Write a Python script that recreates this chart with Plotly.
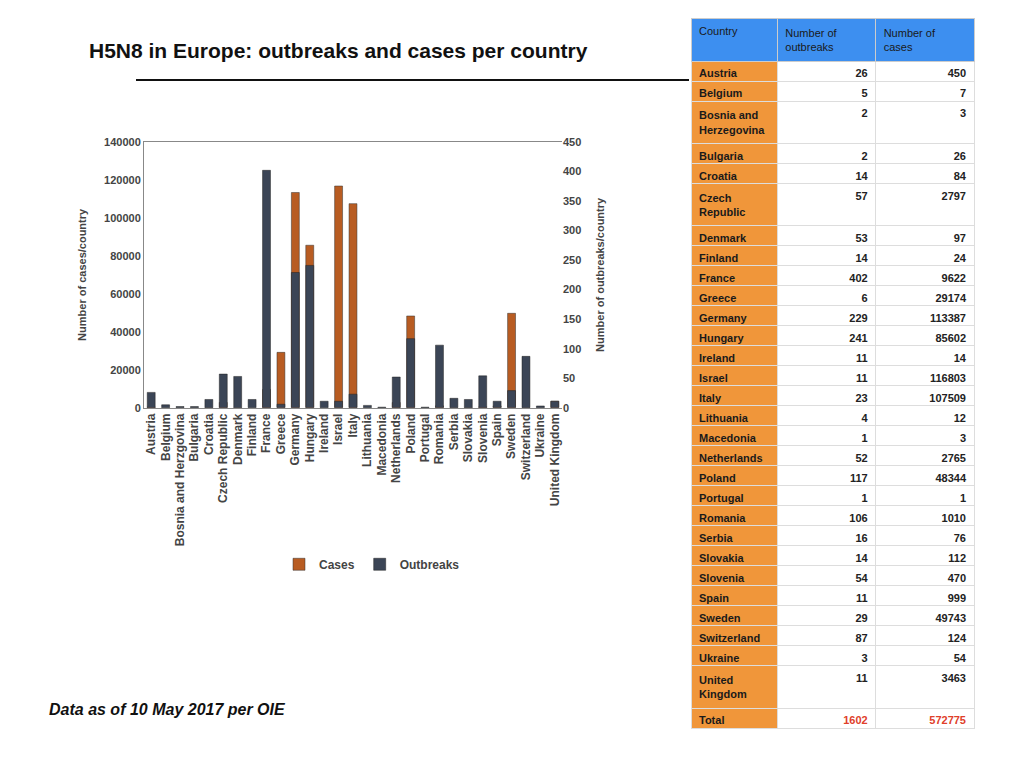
import plotly.graph_objects as go

countries = ["Austria", "Belgium", "Bosnia and Herzgovina", "Bulgaria", "Croatia", "Czech Republic",
             "Denmark", "Finland", "France", "Greece", "Germany", "Hungary", "Ireland", "Israel",
             "Italy", "Lithuania", "Macedonia", "Netherlands", "Poland", "Portugal", "Romania",
             "Serbia", "Slovakia", "Slovenia", "Spain", "Sweden", "Switzerland", "Ukraine",
             "United Kingdom"]
table_names = ["Austria", "Belgium", "Bosnia and<br>Herzegovina", "Bulgaria", "Croatia", "Czech<br>Republic",
               "Denmark", "Finland", "France", "Greece", "Germany", "Hungary", "Ireland", "Israel",
               "Italy", "Lithuania", "Macedonia", "Netherlands", "Poland", "Portugal", "Romania",
               "Serbia", "Slovakia", "Slovenia", "Spain", "Sweden", "Switzerland", "Ukraine",
               "United<br>Kingdom"]
outbreaks = [26, 5, 2, 2, 14, 57, 53, 14, 402, 6, 229, 241, 11, 11, 23, 4, 1, 52, 117, 1, 106,
             16, 14, 54, 11, 29, 87, 3, 11]
cases = [450, 7, 3, 26, 84, 2797, 97, 24, 9622, 29174, 113387, 85602, 14, 116803, 107509, 12, 3,
         2765, 48344, 1, 1010, 76, 112, 470, 999, 49743, 124, 54, 3463]
total_outbreaks = 1602
total_cases = 572775

orange = "#b85c22"
dark = "#3b4556"
fnt = "Liberation Sans"
W, H = 1024, 768
dx, dy = 9, 13  # page offset seen in the render


def px(x):
    return (x - dx) / W


def py(y):
    return 1 - (y - dy) / H


fig = go.Figure()
fig.add_trace(go.Bar(x=countries, y=cases, name="Cases", marker_color=orange,
                     marker_line_color="#333", marker_line_width=0.5, width=0.55))
fig.add_trace(go.Bar(x=countries, y=outbreaks, name="Outbreaks", marker_color=dark,
                     marker_line_color="#222", marker_line_width=0.5, width=0.55, yaxis="y2"))

n = len(countries)
first_col = table_names + ["Total"]
out_col = [str(v) for v in outbreaks] + [str(total_outbreaks)]
case_col = [str(v) for v in cases] + [str(total_cases)]
font_colors = ["#222"] * n + ["#e0402a"]
fig.add_trace(go.Table(
    domain=dict(x=[px(692), px(975)], y=[0, py(18)]),
    columnwidth=[86, 98, 98],
    header=dict(values=["Country", "Number of<br>outbreaks", "Number of<br>cases"],
                fill_color="#3d8ff0", line_color="#cccccc", align="left", height=34,
                font=dict(family=fnt, size=11, color="#1a1a1a")),
    cells=dict(values=[first_col, out_col, case_col],
               fill_color=[["#f0963a"] * (n + 1), ["white"] * (n + 1), ["white"] * (n + 1)],
               line_color="#dddddd", align=["left", "right", "right"], height=20,
               font=dict(family=fnt, size=11, color=[["#1a1a1a"] * (n + 1), font_colors, font_colors],
                         weight="bold")),
))

fig.update_layout(
    width=W, height=H, margin=dict(l=0, r=0, t=0, b=0),
    paper_bgcolor="white", plot_bgcolor="white", barmode="overlay",
    font=dict(family=fnt, size=12, color="#444"),
    xaxis=dict(domain=[px(145), px(563)], tickangle=-90, showline=True, linecolor="#888",
               mirror=True, tickfont=dict(size=12, weight="bold")),
    yaxis=dict(range=[0, 140000], dtick=20000, tickformat="d", showgrid=False, showline=True,
               linecolor="#888", domain=[py(413), py(143)],
               title=dict(text="Number of cases/country", font=dict(size=11, weight="bold")),
               tickfont=dict(size=11, weight="bold")),
    yaxis2=dict(range=[0, 450], dtick=50, overlaying="y", side="right", showgrid=False,
                title=dict(text="Number of outbreaks/country", font=dict(size=11, weight="bold")),
                tickfont=dict(size=11, weight="bold")),
    legend=dict(orientation="h", x=px(280), y=py(572), xanchor="left", yanchor="middle",
                font=dict(size=12, weight="bold"), itemwidth=30),
    annotations=[
        dict(text="<b>H5N8 in Europe: outbreaks and cases per country</b>", x=px(88), y=py(50),
             xref="paper", yref="paper", xanchor="left", yanchor="middle", showarrow=False,
             font=dict(size=21, color="#111")),
        dict(text="<b><i>Data as of 10 May 2017 per OIE</i></b>", x=px(48), y=py(720),
             xref="paper", yref="paper", xanchor="left", yanchor="middle", showarrow=False,
             font=dict(size=16, color="#111")),
    ],
    shapes=[dict(type="line", xref="paper", yref="paper", x0=px(137), x1=px(690),
                 y0=py(80), y1=py(80), line=dict(color="#111", width=2))],
)

fig.write_html("out.html")
